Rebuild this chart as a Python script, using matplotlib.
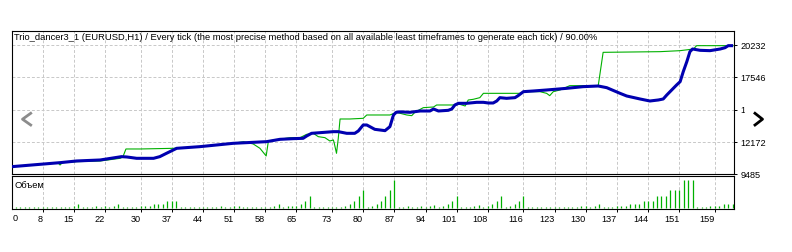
import numpy as np
import matplotlib
matplotlib.use('Agg')
import matplotlib.pyplot as plt
from matplotlib.lines import Line2D
from matplotlib.patches import Rectangle

# --- данные ---
title = ("Trio_dancer3_1 (EURUSD,H1) / Every tick (the most precise method based on "
         "all available least timeframes to generate each tick) / 90.00%")

balance_x = [1.1, 7.4, 11.9, 15.6, 20.9, 25.7, 26.9, 29.1, 32.9, 34.3, 35.8, 38.1, 43.3,
             50.8, 58.3, 61.3, 64.3, 66.5, 67.3, 68.4, 73.3, 74.4, 76.3, 78.1, 78.9, 80.0,
             80.8, 81.5, 82.6, 84.9, 86.0, 86.8, 87.4, 88.3, 90.5, 92.8, 95.0, 95.8, 96.9,
             99.1, 99.9, 100.6, 101.4, 103.2, 105.5, 107.0, 108.1, 109.2, 110.0, 110.7,
             112.2, 114.1, 114.8, 116.0, 118.2, 121.2, 125.7, 129.4, 132.8, 134.7, 137.7,
             139.2, 142.2, 144.4, 146.3, 147.4, 148.2, 150.4, 151.2, 151.9, 152.7, 153.4,
             154.0, 155.7, 157.9, 160.2, 161.3, 162.0, 163.1]
balance_y = [10122, 10316, 10454, 10593, 10676, 10954, 10926, 10815, 10815, 10954, 11231,
             11647, 11785, 12063, 12201, 12395, 12451, 12479, 12673, 12895, 13033, 13033,
             12895, 12895, 13089, 13588, 13588, 13449, 13227, 13117, 13449, 14420, 14642,
             14680, 14642, 14753, 14753, 14919, 14753, 14808, 14919, 15252, 15391, 15391,
             15474, 15474, 15418, 15418, 15584, 15862, 15806, 15862, 16028, 16361, 16416,
             16500, 16638, 16777, 16832, 16694, 16222, 16000, 15751, 15584, 15668, 15751,
             16084, 16915, 17193, 18025, 18857, 19689, 19910, 19800, 19772, 19910, 20021,
             20188, 20188]

equity_x = [1.1, 11.4, 11.9, 12.4, 15.6, 20.9, 25.4, 26.0, 26.7, 29.9, 37.4, 43.3, 50.8,
            53.1, 55.3, 56.8, 58.2, 58.7, 63.6, 65.8, 67.3, 68.8, 69.9, 71.4, 72.5, 73.3,
            73.5, 74.0, 74.4, 74.8, 77.0, 80.0, 80.8, 86.0, 87.5, 88.3, 89.8, 90.9, 91.6,
            93.5, 95.8, 96.5, 100.2, 101.7, 102.9, 103.6, 104.7, 106.2, 107.0, 115.2,
            116.3, 119.7, 121.2, 121.9, 122.7, 124.2, 126.4, 132.8, 133.9, 146.7, 151.2,
            154.2, 154.9, 163.1]
equity_y = [10122, 10454, 10260, 10454, 10537, 10593, 10815, 10926, 11592, 11592, 11647,
            11785, 12063, 12201, 12007, 11647, 11009, 12257, 12534, 12534, 12811, 12895,
            12617, 12534, 12257, 12340, 12063, 11231, 12479, 14087, 14087, 14143, 14420,
            14420, 14642, 14559, 14420, 14364, 14642, 15030, 15085, 15252, 15252, 15307,
            15169, 15668, 15723, 15862, 16222, 16222, 16361, 16361, 16222, 16028, 16361,
            16500, 16860, 16860, 19633, 19689, 19772, 19910, 20188, 20188]

volume = [1, 1, 1, 1, 1, 1, 1, 1, 1, 1,
          1, 1, 1, 3, 6, 1, 1, 1, 3, 1,
          3, 1, 3, 6, 1, 1, 1, 1, 3, 3,
          3, 6, 6, 6, 10, 10, 10, 1, 1, 1,
          1, 1, 1, 1, 1, 1, 3, 1, 1, 3,
          3, 1, 1, 1, 1, 1, 1, 1, 3, 6,
          1, 3, 3, 3, 6, 10, 18, 1, 1, 1,
          1, 1, 1, 1, 3, 6, 10, 18, 27, 1,
          3, 6, 10, 18, 27, 42, 1, 1, 3, 1,
          1, 3, 1, 3, 5, 1, 3, 6, 10, 18,
          1, 1, 1, 3, 5, 1, 3, 6, 10, 18,
          1, 3, 6, 10, 18, 1, 1, 1, 1, 1,
          1, 1, 1, 1, 1, 1, 1, 3, 3, 1,
          3, 6, 1, 1, 1, 3, 3, 3, 6, 6,
          6, 10, 10, 10, 18, 18, 18, 27, 27, 27,
          42, 42, 42, 1, 1, 1, 3, 3, 3, 6,
          6, 6]
trades = np.arange(2, 2 + len(volume))

y_ticks = [9485, 12172, 14859, 17546, 20232]
x_ticks = [8, 15, 22, 30, 37, 44, 51, 58, 65, 73, 80, 87, 94, 101, 108, 116,
           123, 130, 137, 144, 151, 159]

BLUE = '#0000b0'
GREEN = '#00b000'
GRID = '#c8c8c8'
FONT = 'Liberation Sans'
FS = 6.6

W, H = 792, 252
fig = plt.figure(figsize=(W / 100, H / 100), dpi=100)


def box(l, t, r, b):
    return [l / W, 1 - b / H, (r - l) / W, (b - t) / H]


ax = fig.add_axes(box(12, 31, 734, 174.3))
axv = fig.add_axes(box(12, 176, 734, 209), sharex=ax)

# основной график
ax.plot(equity_x, equity_y, color=GREEN, lw=0.8, zorder=3)
ax.plot(balance_x, balance_y, color=BLUE, lw=2.2, zorder=4, solid_capstyle='butt')
ax.set_xlim(1.1, 163.3)
ax.set_ylim(9485, 21408)
ax.set_xticks(x_ticks)
ax.set_yticks(y_ticks)
ax.yaxis.tick_right()
ax.tick_params(axis='x', length=0, labelbottom=False)
ax.tick_params(axis='y', length=2.5, width=0.7, pad=2, labelsize=FS)
for lab in ax.get_yticklabels():
    lab.set_family(FONT)
ax.grid(True, color=GRID, ls=(0, (3, 2)), lw=0.7)
ax.text(0.003, 0.952, title, transform=ax.transAxes, va='center', ha='left',
        fontsize=6.75, family=FONT, color='black')

# объем
axv.vlines(trades, 0, volume, color=GREEN, lw=0.9)
axv.set_ylim(-1.5, 48.5)
axv.set_yticks([])
axv.set_xticks(x_ticks)
axv.set_xticklabels([str(t) for t in x_ticks], family=FONT, fontsize=FS, ha='right')
axv.tick_params(axis='x', length=2.5, width=0.7, pad=2)
axv.grid(True, axis='x', color=GRID, ls=(0, (3, 2)), lw=0.7)
axv.text(0.004, 0.72, 'Объем', transform=axv.transAxes, va='center', ha='left',
         fontsize=6.75, family=FONT)
axv.text(0.001, -0.14, '0', transform=axv.transAxes, va='top', ha='left',
         fontsize=FS, family=FONT)

for a in (ax, axv):
    for s in a.spines.values():
        s.set_linewidth(0.8)
        s.set_color('black')

# кнопки прокрутки поверх графика
fig.patches.append(Rectangle((745 / W, 1 - 136 / H), 40 / W, 38 / H,
                             transform=fig.transFigure, color='white', zorder=10))
fig.lines.append(Line2D([30.7 / W, 22.5 / W, 30.7 / W],
                        [1 - 113.3 / H, 1 - 119.2 / H, 1 - 125 / H],
                        transform=fig.transFigure, color='#8c8c8c', lw=2, zorder=11))
fig.lines.append(Line2D([755 / W, 762.5 / W, 755 / W],
                        [1 - 113.3 / H, 1 - 119.2 / H, 1 - 125 / H],
                        transform=fig.transFigure, color='black', lw=2, zorder=11))

fig.savefig('out.png', dpi=100)
